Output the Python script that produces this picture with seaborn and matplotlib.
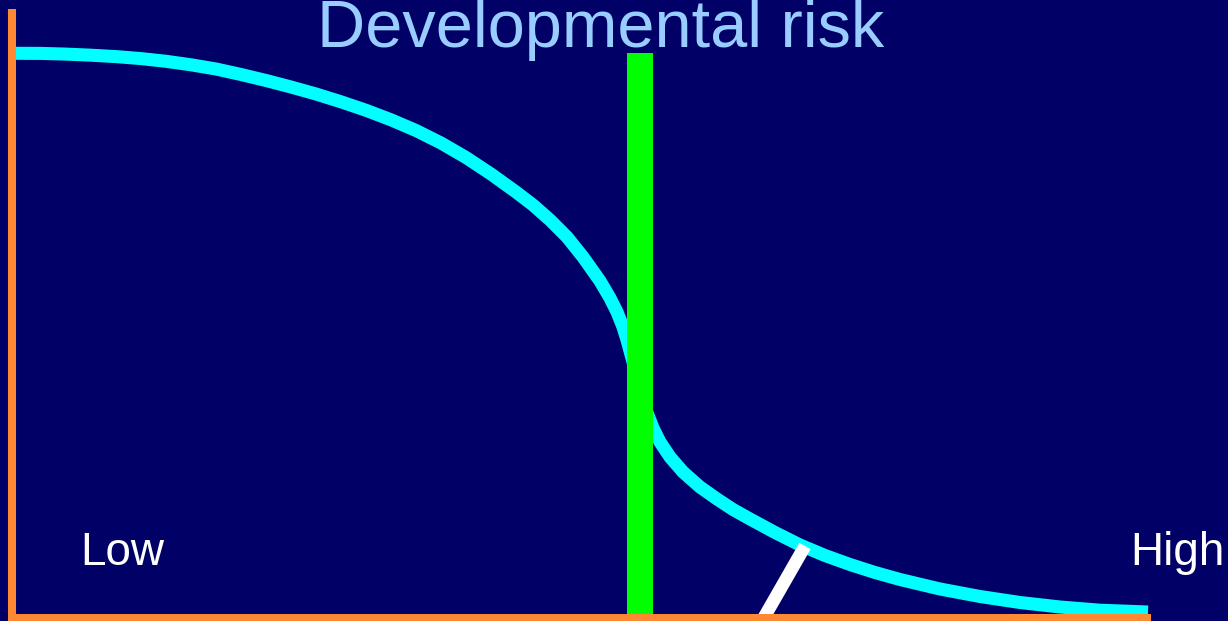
import matplotlib
matplotlib.use("Agg")
import matplotlib.pyplot as plt
import seaborn as sns
import pandas as pd

# Risk curve (arbitrary index units): position along the scale vs. level
risk_position = [4, 29, 54, 79, 104, 129, 154, 179, 204, 229, 254, 279, 304, 329,
                 354, 379, 404, 429, 454, 479, 504, 521, 538, 555, 571, 588, 598,
                 605, 611, 615, 621, 628, 634, 641, 648, 658, 671, 688, 705, 721,
                 738, 763, 788, 813, 838, 863, 888, 928, 968, 1008, 1048, 1088, 1136]
risk_level = [564.7, 564.6, 563.9, 562.8, 561.4, 559.4, 556.7, 553.2, 549, 543.5,
              537.5, 531, 524, 516.2, 507.7, 498.2, 487.5, 475, 460.5, 444, 426,
              413, 398, 381, 361, 337, 320, 306, 291, 278, 256, 228, 208, 190,
              176, 161, 146, 131, 119, 108.5, 99, 85.5, 73, 62.5, 53.5, 45.5, 38.5,
              29, 21.5, 15.5, 11, 7.8, 6]

# Threshold bar
threshold_position = 628
threshold_height = 565

# Pointer from the curve down to the axis
pointer_x = [793, 750]
pointer_y = [72, -3]

title_text = "Developmental risk"
low_label = "Low"
high_label = "High"

BG = "#000066"
ORANGE = "#FF8833"
CYAN = "#00FFFF"
GREEN = "#00FF00"
TITLE_COLOR = "#99CCFF"

sns.set_style("white", {"axes.facecolor": BG, "figure.facecolor": BG})
plt.rcParams["font.family"] = ["Liberation Sans", "DejaVu Sans"]

fig = plt.figure(figsize=(12.28, 6.21), dpi=100)
ax = fig.add_axes([0, 0, 1, 1])
ax.set_facecolor(BG)

curve = pd.DataFrame({"x": risk_position, "y": risk_level})
sns.lineplot(data=curve, x="x", y="y", ax=ax, color=CYAN, linewidth=9.4,
             sort=False, estimator=None, zorder=2,
             solid_capstyle="butt", solid_joinstyle="round")

pointer = pd.DataFrame({"x": pointer_x, "y": pointer_y})
sns.lineplot(data=pointer, x="x", y="y", ax=ax, color="white", linewidth=9.3,
             sort=False, estimator=None, zorder=3, solid_capstyle="butt")

ax.bar([threshold_position], [threshold_height + 3], bottom=-3, width=26,
       color=GREEN, zorder=4, linewidth=0)

ax.set_xlim(-12, 1216)
ax.set_ylim(-3, 618)

ax.set_xticks([])
ax.set_yticks([])
ax.set_xlabel("")
ax.set_ylabel("")

for side in ("top", "right"):
    ax.spines[side].set_visible(False)
for side in ("left", "bottom"):
    sp = ax.spines[side]
    sp.set_visible(True)
    sp.set_color(ORANGE)
    sp.set_linewidth(5.8)
    sp.set_capstyle("butt")
    sp.set_position(("data", 0))
    sp.set_zorder(6)
ax.spines["left"].set_bounds(-3, 609)
ax.spines["bottom"].set_bounds(-4, 1139)

ax.text(589, 571, title_text, color=TITLE_COLOR, fontsize=48,
        ha="center", va="baseline", zorder=7)
ax.text(68, 53, low_label, color="white", fontsize=33,
        ha="left", va="baseline", zorder=7)
ax.text(1118, 53, high_label, color="white", fontsize=33,
        ha="left", va="baseline", zorder=7, clip_on=False)

fig.savefig("out.png", dpi=100, facecolor=BG)
